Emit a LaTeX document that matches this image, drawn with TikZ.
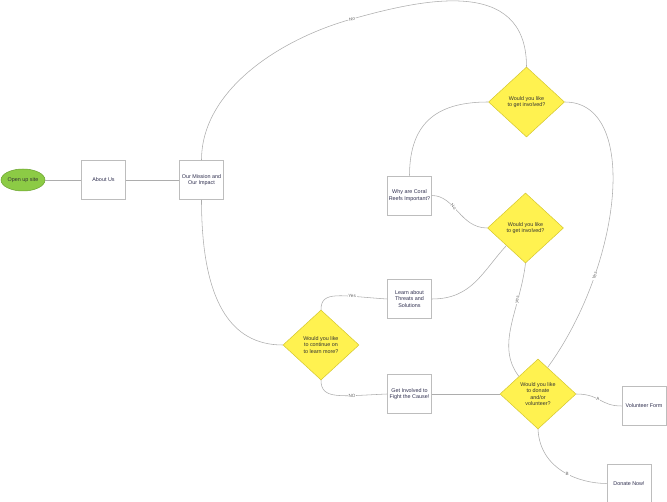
\documentclass[tikz,border=0pt]{standalone}
\usepackage{fontspec}
\setmainfont{Liberation Sans}
\usetikzlibrary{shapes.geometric,calc}

\definecolor{linegray}{HTML}{ADADAD}
\definecolor{boxborder}{HTML}{BDBDBD}
\definecolor{boxtext}{HTML}{2E2E4E}
\definecolor{decfill}{HTML}{FFF250}
\definecolor{decborder}{HTML}{D4C62E}
\definecolor{startfill}{HTML}{8CCB45}
\definecolor{startborder}{HTML}{6AA22E}
\definecolor{labelgray}{HTML}{666666}

\tikzset{
  x=1pt, y=-1pt,
  boxnode/.style={draw=boxborder, fill=white, line width=0.6pt,
    minimum width=44pt, minimum height=39pt, inner sep=1pt,
    align=center, text=boxtext, font=\fontsize{5.4}{6.4}\selectfont},
  decision/.style={diamond, draw=decborder, fill=decfill, line width=0.5pt,
    minimum width=76pt, minimum height=70pt, inner sep=0pt, aspect=1.1,
    align=center, text=black!80, font=\fontsize{5.4}{6.4}\selectfont},
  startnode/.style={ellipse, draw=startborder, fill=startfill, line width=0.5pt,
    minimum width=44pt, minimum height=22pt, inner sep=0pt,
    text=black!80, font=\fontsize{5.4}{6.4}\selectfont},
  conn/.style={draw=linegray, line width=0.55pt},
  edgelabel/.style={fill=white, inner sep=0.8pt, text=labelgray,
    font=\fontsize{4.6}{5}\selectfont},
}

\begin{document}
\begin{tikzpicture}
\useasboundingbox (0,0) rectangle (667,502);

% --- nodes ---
\node[startnode] (start) at (23,180) {Open up site};
\node[boxnode] (about) at (103.5,180) {About Us};
\node[boxnode] (mission) at (201.5,180) {Our Mission and\\Our Impact};
\node[boxnode] (why) at (409.5,195.5) {Why are Coral\\Reefs Important?};
\node[boxnode] (learn) at (409.5,299) {Learn about\\Threats and\\Solutions};
\node[boxnode] (fight) at (409.5,394) {Get Involved to\\Fight the Cause!};
\node[boxnode] (volunteer) at (644,406) {Volunteer Form};
\node[boxnode] (donate) at (629,483.5) {Donate Now!};

\node[decision] (involvedtop) at (526.5,102) {Would you like\\to get involved?};
\node[decision] (involvedmid) at (525.5,228) {Would you like\\to get involved?};
\node[decision] (continue) at (321,345) {Would you like\\to continue on\\to learn more?};
\node[decision] (donatevol) at (538,394) {Would you like\\to donate\\and/or\\volunteer?};

% attachment points on diamond edges
\coordinate (midin) at ($(involvedmid.west)!0.5!(involvedmid.south)$);
\coordinate (dvleft) at ($(donatevol.north)!0.5!(donatevol.west)$);
\coordinate (dvright) at ($(donatevol.north)!0.25!(donatevol.east)$);

% --- connectors ---
\draw[conn] (start.east) -- (about.west);
\draw[conn] (about.east) -- (mission.west);

% long arc over the top
\draw[conn] (mission.north) .. controls (201.5,90) and (280,39) ..
  node[pos=1, sloped, edgelabel] {No} (352,19)
  .. controls (420,0) and (526.5,-25) .. (involvedtop.north);

\draw[conn] (mission.south) .. controls (201.5,300) and (230,345) .. (continue.west);

\draw[conn] (why.north) .. controls (409.5,120) and (440,102) .. (involvedtop.west);
\draw[conn] (why.east) .. controls (455,195.5) and (460,228) ..
  node[pos=0.4, sloped, edgelabel] {No} (involvedmid.west);

\draw[conn] (continue.north) .. controls (321,290) and (340,296) ..
  node[pos=0.7, edgelabel] {Yes} (learn.west);
\draw[conn] (continue.south) .. controls (321,400) and (340,396) ..
  node[pos=0.7, edgelabel] {NO} (fight.west);

\draw[conn] (learn.east) .. controls (472,299) and (482,272) .. (midin);
\draw[conn] (fight.east) -- (donatevol.west);

\draw[conn] (involvedmid.south) .. controls (520,310) and (495,345) ..
  node[pos=0.28, sloped, edgelabel] {yes} (dvleft);
\draw[conn] (involvedtop.east) .. controls (640,102) and (622,265) ..
  node[pos=0.73, sloped, edgelabel] {Yes} (dvright);

\draw[conn] (donatevol.east) .. controls (600,394) and (600,406) ..
  node[pos=0.45, edgelabel] {A} (volunteer.west);
\draw[conn] (donatevol.south) .. controls (540,470) and (580,483.5) ..
  node[pos=0.55, edgelabel] {B} (donate.west);
\end{tikzpicture}
\end{document}
